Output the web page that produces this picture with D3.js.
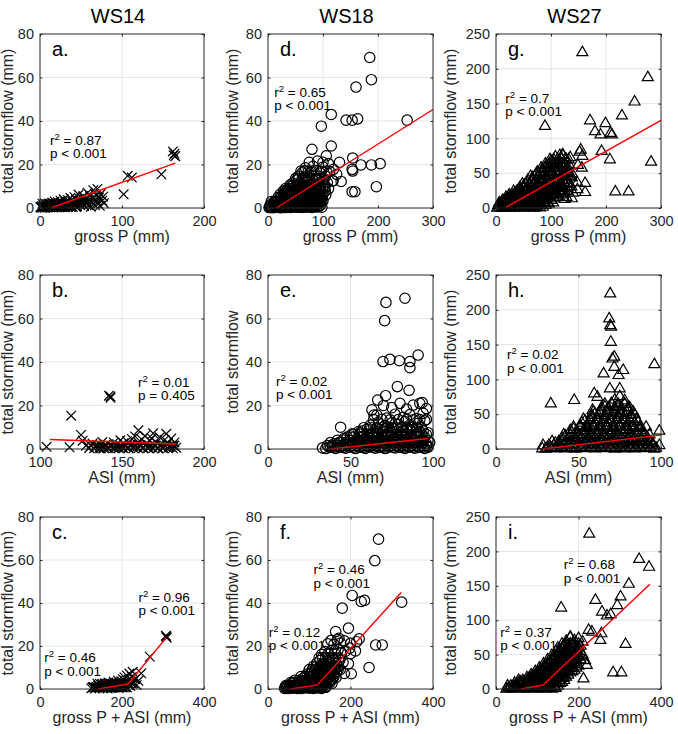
<!DOCTYPE html>
<html><head><meta charset="utf-8">
<script src="https://cdn.jsdelivr.net/npm/d3@7"></script>
<style>body{margin:0;background:#fff}svg{display:block;font-family:"Liberation Sans",Arial,Helvetica,sans-serif}</style>
</head><body><svg id="c" width="678" height="734"></svg>
<script>
// ---------- DATA ----------
const watersheds = ["WS14", "WS18", "WS27"];
const xTicksP = [0, 100, 200];
const xTicksP3 = [0, 100, 200, 300];
const xTicksASI14 = [100, 150, 200];
const xTicksASI = [0, 50, 100];
const xTicksSum = [0, 200, 400];
const yTicks80 = [0, 20, 40, 60, 80];
const yTicks250 = [0, 50, 100, 150, 200, 250];

// WS14 (x markers)
const ws14_grossP = [[1,0.2],[2,0.8],[3,0.1],[4,1.2],[5,0.4],[6,0.1],[7,1.6],[8,0.6],[9,0.2],[10,1.0],[11,2.0],[12,0.3],[13,1.4],[14,0.7],[15,2.4],[16,0.2],[17,1.1],[18,3.0],[19,0.5],[20,1.8],[21,0.9],[22,2.6],[23,0.3],[24,1.4],[25,3.4],[26,0.6],[27,2.0],[28,1.1],[29,4.0],[30,0.4],[31,2.8],[32,1.6],[33,0.8],[34,3.6],[35,2.2],[36,1.0],[37,4.6],[38,0.5],[39,3.0],[40,1.8],[41,2.4],[42,5.0],[43,1.2],[44,3.8],[45,0.7],[46,2.6],[47,6.2],[48,4.2],[49,1.5],[50,3.2],[52,2.0],[53,5.5],[54,0.9],[55,4.0],[57,2.8],[58,7.0],[59,1.4],[60,3.6],[61,5.4],[62,0.6],[64,2.5],[65,8.2],[66,4.6],[67,1.2],[68,6.0],[69,3.0],[70,8.8],[71,2.0],[72,4.8],[73,1.0],[74,6.4],[76,3.4],[77,5.2],[78,2.2],[102,6.3],[107,14.8],[112,14.0],[148,15.5],[162,26.0],[163,24.2],[164,25.0],[165,23.8]];
const ws14_grossP_core = [[0.5,0.5],[2.5,0.4],[4.5,0.6],[6.5,0.5],[8.5,0.4],[10.5,0.6],[12.5,0.5],[14.5,0.4],[16.5,0.6],[18.5,0.5],[20.5,0.4],[22.5,0.6],[24.5,0.5],[26.5,0.4],[28.5,0.6],[31,0.5],[34,0.4],[37,0.6],[40,0.5],[44,0.4],[3,2.0],[6,2.1],[9,1.9],[12,2.0],[15,2.1],[18,1.9],[21,2.0],[24,2.1],[27,1.9],[30,2.0],[33,2.1],[36,1.9],[40,2.0],[44,2.1],[48,1.9],[52,2.0],[56,2.1]];
const ws14_asi = [[104,1.0],[118,0.8],[119,15.3],[125,6.5],[126,3.8],[128,1.5],[130,0.5],[132,2.5],[134,0.8],[135,1.8],[137,0.3],[138,3.2],[139,1.0],[140,2.0],[141,0.6],[142,24.5],[143,23.5],[143,24.2],[144,1.5],[145,3.0],[146,0.4],[147,2.2],[148,1.0],[149,4.0],[150,0.7],[151,2.6],[152,1.4],[153,3.6],[154,0.5],[155,2.0],[156,4.6],[157,1.2],[158,5.8],[159,0.8],[160,8.6],[160,3.0],[161,1.8],[162,4.4],[163,0.6],[164,6.0],[165,2.4],[166,1.0],[167,3.8],[168,5.0],[169,7.2],[170,1.6],[171,3.0],[172,0.5],[173,5.4],[174,2.0],[175,1.0],[176,4.2],[177,7.0],[178,2.8],[179,0.8],[180,4.8],[181,1.6],[182,3.0],[183,0.6]];
const ws14_asi_core = [[131,1.5],[134,1.4],[137,1.6],[140,1.5],[143,1.4],[146,1.6],[149,1.5],[152,1.4],[155,1.6],[158,1.5],[161,1.4],[164,1.6],[167,1.5],[170,1.4],[173,1.6],[176,1.5],[179,1.4],[182,1.6],[133,0.3],[136,0.3],[139,0.3],[142,0.3],[145,0.3],[148,0.3],[151,0.3],[154,0.3],[157,0.3],[160,0.3],[163,0.3],[166,0.3],[169,0.3],[172,0.3],[175,0.3],[178,0.3],[181,0.3]];
const ws14_sum = [[125,0.3],[130,1.0],[134,0.2],[138,0.8],[142,1.6],[145,0.4],[148,0.9],[150,2.0],[153,0.3],[156,1.2],[158,2.6],[160,0.6],[163,1.5],[165,0.2],[167,3.0],[170,1.0],[172,2.2],[175,0.5],[177,1.6],[180,3.4],[182,0.8],[185,2.4],[187,1.2],[190,4.0],[192,0.5],[194,2.8],[196,1.6],[198,3.6],[200,0.8],[202,4.6],[204,2.0],[206,5.4],[208,1.0],[210,3.2],[212,6.2],[214,2.4],[216,4.4],[218,7.2],[220,1.4],[222,3.4],[224,5.6],[226,8.0],[228,2.6],[232,4.6],[236,1.8],[240,3.8],[247,7.3],[268,15.0],[307,24.8],[309,23.8],[308,24.4]];
const ws14_sum_core = [[128,0.8],[132,0.8],[136,0.8],[140,0.8],[144,0.8],[148,0.8],[152,0.8],[156,0.8],[160,0.8],[164,0.8],[168,0.8],[172,0.8],[176,0.8],[180,0.8],[184,0.8],[188,0.8],[192,0.8],[196,0.8],[200,0.8],[204,0.8],[208,0.8],[212,0.8],[140,2.5],[146,2.5],[152,2.5],[158,2.5],[164,2.5],[170,2.5],[176,2.5],[182,2.5],[188,2.5],[194,2.5],[200,2.5],[206,2.5],[212,2.5],[218,2.5],[224,2.5]];

// WS18 (circles)
const ws18_grossP = [[2,0.2],[5,0.6],[8,0.1],[11,0.9],[14,0.3],[17,1.2],[20,0.5],[23,0.1],[26,1.5],[29,0.7],[32,0.2],[35,1.8],[38,0.9],[41,0.3],[44,1.4],[47,0.6],[50,2.0],[54,0.4],[58,1.2],[62,0.3],[66,1.6],[70,0.5],[75,1.0],[80,0.3],[86,1.3],[92,0.6],[98,0.4],[10,2.5],[15,3.2],[20,2.2],[25,3.8],[30,2.6],[35,4.0],[40,2.8],[45,3.6],[50,2.4],[55,4.2],[60,3.0],[65,3.8],[70,2.6],[75,4.4],[80,3.2],[85,2.4],[90,3.6],[95,2.8],[100,3.4],[25,5.5],[30,6.8],[35,5.2],[40,7.0],[45,5.8],[50,6.6],[55,5.0],[60,7.2],[65,5.6],[70,6.4],[75,5.2],[80,7.0],[85,5.8],[90,6.6],[95,5.2],[105,6.0],[35,8.5],[42,9.8],[48,8.2],[55,10.0],[60,8.8],[66,9.6],[72,8.4],[78,10.2],[85,9.0],[92,8.6],[100,9.4],[110,8.8],[45,11.5],[52,12.8],[58,11.2],[64,13.0],[70,11.8],[76,12.6],[82,11.4],[90,13.2],[98,12.0],[108,11.6],[118,12.5],[55,14.5],[62,16.2],[70,14.8],[78,16.6],[85,15.0],[95,16.0],[105,14.6],[112,16.8],[125,15.5],[68,18.5],[75,21.0],[82,19.2],[90,21.6],[100,18.8],[110,20.4],[185,69.2],[188,59.0],[160,55.6],[115,43.0],[97,37.6],[142,40.4],[153,40.4],[163,41.0],[253,40.4],[80,27.0],[115,28.5],[106,24.0],[100,21.0],[154,23.0],[130,21.0],[169,19.8],[188,19.8],[204,20.4],[197,9.8],[153,7.5],[158,7.5],[133,12.2],[118,12.5],[153,17.8],[154,17.0],[119,17.8]];
const ws18_grossP_core = [[4,1.3],[9,1.4],[13,1.2],[18,1.3],[22,1.4],[27,1.2],[31,1.3],[36,1.4],[40,1.2],[45,1.3],[49,1.4],[53,1.2],[57,1.3],[61,1.4],[65,1.2],[69,1.3],[73,1.4],[78,1.2],[83,1.3],[89,1.4],[95,1.2],[18,4.8],[22,4.7],[28,4.9],[33,4.8],[38,4.7],[43,4.9],[48,4.8],[53,4.7],[58,4.9],[63,4.8],[68,4.7],[73,4.9],[78,4.8],[83,4.7],[88,4.9],[93,4.8],[98,4.7],[28,7.8],[33,7.9],[38,7.7],[44,7.8],[50,7.9],[57,7.7],[63,7.8],[69,7.9],[75,7.7],[82,7.8],[88,7.9],[96,7.7],[104,7.8],[40,10.5],[46,10.6],[51,10.4],[57,10.5],[63,10.6],[69,10.4],[75,10.5],[81,10.6],[88,10.4],[95,10.5],[103,10.6],[50,13.5],[56,13.6],[62,13.4],[68,13.5],[74,13.6],[80,13.4],[87,13.5],[94,13.6],[102,13.4],[60,17.0],[66,17.1],[73,16.9],[80,17.0],[88,17.1],[97,16.9],[106,17.0]];
const ws18_grossP_core2 = [[3,0.5],[7,0.5],[12,0.5],[16,0.5],[21,0.5],[25,0.5],[30,0.5],[34,0.5],[39,0.5],[43,0.5],[48,0.5],[52,0.5],[57,0.5],[61,0.5],[66,0.5],[71,0.5],[77,0.5],[83,0.5],[89,0.5],[6,3.0],[12,3.0],[17,3.0],[23,3.0],[28,3.0],[33,3.0],[38,3.0],[43,3.0],[48,3.0],[53,3.0],[58,3.0],[63,3.0],[68,3.0],[73,3.0],[78,3.0],[83,3.0],[88,3.0],[93,3.0],[98,3.0],[22,6.3],[28,6.3],[33,6.3],[38,6.3],[43,6.3],[48,6.3],[53,6.3],[58,6.3],[63,6.3],[68,6.3],[73,6.3],[78,6.3],[83,6.3],[88,6.3],[93,6.3],[100,6.3],[32,9.0],[38,9.0],[45,9.0],[51,9.0],[57,9.0],[63,9.0],[69,9.0],[75,9.0],[81,9.0],[88,9.0],[95,9.0],[103,9.0]];
const ws18_asi = [[33,0.5],[35,0.2],[38,0.9],[41,0.3],[44,1.0],[47,0.4],[50,1.2],[53,0.2],[56,0.8],[59,0.3],[62,1.1],[65,0.4],[68,0.9],[71,0.2],[74,1.2],[77,0.5],[80,0.8],[83,0.3],[86,1.0],[89,0.4],[92,0.9],[95,0.3],[97,1.1],[40,2.4],[44,3.0],[48,2.2],[52,3.2],[56,2.6],[60,3.4],[64,2.2],[68,3.0],[72,2.5],[76,3.3],[80,2.3],[84,3.1],[88,2.6],[92,3.4],[96,2.4],[44,10.0],[46,4.8],[50,6.0],[51,7.0],[54,4.6],[56,7.5],[58,5.8],[62,4.8],[66,6.0],[70,5.0],[74,5.8],[78,4.6],[82,6.2],[86,5.0],[90,5.8],[94,4.8],[97,7.5],[55,8.0],[60,9.2],[64,7.8],[68,8.8],[72,8.2],[76,9.4],[80,7.6],[84,8.6],[88,9.0],[92,8.0],[62,11.0],[67,12.4],[71,10.8],[75,12.0],[79,11.2],[83,12.6],[87,10.6],[91,11.8],[95,13.0],[66,15.6],[72,14.2],[77,16.0],[82,14.6],[86,15.8],[90,14.0],[94,16.4],[63,18.0],[70,20.0],[75,19.0],[80,21.0],[84,18.4],[88,20.2],[92,21.0],[96,18.6],[83,69.3],[71.5,67.4],[70.7,59.0],[69.7,40.2],[73.9,41.2],[79.6,40.6],[86,40.2],[86,37.4],[91,43.2],[78.4,28.7],[85.5,27.0],[71.3,24.5],[66.5,22.5],[93.5,21.3],[64.2,15.6]];
const ws18_asi_core = [[36,1.6],[39,1.7],[42,1.5],[45,1.6],[48,1.7],[51,1.5],[54,1.6],[57,1.7],[60,1.5],[63,1.6],[66,1.7],[69,1.5],[72,1.6],[75,1.7],[78,1.5],[81,1.6],[84,1.7],[87,1.5],[90,1.6],[93,1.7],[96,1.5],[42,4.0],[46,4.1],[50,3.9],[54,4.0],[58,4.1],[61,3.9],[64,4.0],[67,4.1],[70,3.9],[73,4.0],[76,4.1],[79,3.9],[82,4.0],[85,4.1],[88,3.9],[91,4.0],[94,4.1],[97,3.9],[52,6.8],[56,6.9],[60,6.7],[63,6.8],[66,6.9],[69,6.7],[72,6.8],[75,6.9],[78,6.7],[81,6.8],[84,6.9],[87,6.7],[90,6.8],[93,6.9],[96,6.7],[58,9.8],[62,9.9],[66,9.7],[69,9.8],[72,9.9],[75,9.7],[78,9.8],[81,9.9],[84,9.7],[87,9.8],[90,9.9],[93,9.7],[64,13.5],[69,13.6],[74,13.4],[79,13.5],[84,13.6],[88,13.4],[92,13.5],[96,13.6]];
const ws18_asi_core2 = [[37,0.8],[40,0.8],[43,0.8],[46,0.8],[49,0.8],[52,0.8],[55,0.8],[58,0.8],[61,0.8],[64,0.8],[67,0.8],[70,0.8],[73,0.8],[76,0.8],[79,0.8],[82,0.8],[85,0.8],[88,0.8],[91,0.8],[94,0.8],[97,0.8],[38,3.0],[43,3.0],[47,3.0],[51,3.0],[55,3.0],[59,3.0],[62,3.0],[66,3.0],[70,3.0],[74,3.0],[78,3.0],[82,3.0],[86,3.0],[90,3.0],[94,3.0],[98,3.0],[48,5.5],[52,5.5],[56,5.5],[60,5.5],[64,5.5],[67,5.5],[71,5.5],[75,5.5],[79,5.5],[83,5.5],[87,5.5],[91,5.5],[95,5.5],[57,8.3],[61,8.3],[65,8.3],[70,8.3],[74,8.3],[78,8.3],[82,8.3],[86,8.3],[90,8.3],[94,8.3]];
const ws18_sum = [[40,0.3],[45,0.8],[50,0.2],[55,1.0],[60,0.4],[65,1.2],[70,0.3],[75,0.9],[80,0.2],[85,1.1],[90,0.5],[95,1.3],[100,0.4],[105,0.9],[110,0.3],[115,1.2],[120,0.5],[125,1.0],[130,0.3],[140,0.8],[60,3.0],[70,2.4],[80,3.2],[90,2.6],[100,3.4],[108,2.2],[115,3.0],[122,2.5],[130,3.3],[138,2.4],[146,3.1],[155,2.6],[85,5.0],[95,4.4],[105,5.6],[112,4.6],[120,5.8],[127,4.8],[134,6.0],[141,5.0],[148,5.8],[156,4.6],[165,5.4],[105,8.0],[115,9.2],[122,7.6],[130,8.8],[137,7.8],[144,9.6],[151,8.2],[158,9.4],[166,8.0],[175,9.0],[185,7.2],[118,12.0],[126,13.2],[134,11.6],[142,13.0],[150,12.2],[158,13.6],[166,11.8],[174,13.4],[182,12.4],[195,11.8],[130,16.0],[138,17.4],[146,16.2],[154,18.0],[162,16.6],[170,18.2],[178,16.8],[188,17.6],[200,16.4],[145,21.0],[153,22.6],[160,20.8],[168,23.0],[176,21.4],[185,22.4],[200,21.2],[215,22.0],[268,69.7],[259,59.7],[204,43.5],[226,40.7],[234,41.2],[324,40.4],[180,37.6],[261,20.5],[277,20.5],[245,10.0],[195,28.3],[164,26.7],[172,23.6],[221,23.3],[202,7.1],[212,17.7],[198,19.0]];
const ws18_sum_core = [[43,1.6],[48,1.7],[53,1.5],[58,1.6],[63,1.7],[68,1.5],[73,1.6],[78,1.7],[83,1.5],[88,1.6],[93,1.7],[98,1.5],[103,1.6],[108,1.7],[113,1.5],[118,1.6],[123,1.7],[128,1.5],[135,1.6],[65,4.0],[75,4.1],[85,3.9],[92,4.0],[98,4.1],[104,3.9],[110,4.0],[117,4.1],[124,3.9],[132,4.0],[140,4.1],[150,3.9],[95,7.0],[102,7.1],[110,6.9],[117,7.0],[124,7.1],[131,6.9],[138,7.0],[145,7.1],[152,6.9],[160,7.0],[110,10.5],[118,10.6],[126,10.4],[133,10.5],[140,10.6],[147,10.4],[154,10.5],[162,10.6],[170,10.4],[124,14.5],[132,14.6],[140,14.4],[148,14.5],[156,14.6],[164,14.4],[172,14.5]];
const ws18_sum_core2 = [[42,0.8],[47,0.8],[52,0.8],[57,0.8],[62,0.8],[67,0.8],[72,0.8],[77,0.8],[82,0.8],[87,0.8],[92,0.8],[97,0.8],[102,0.8],[107,0.8],[112,0.8],[117,0.8],[122,0.8],[127,0.8],[133,0.8],[138,0.8],[55,3.0],[65,3.0],[72,3.0],[82,3.0],[88,3.0],[95,3.0],[102,3.0],[112,3.0],[119,3.0],[126,3.0],[134,3.0],[142,3.0],[150,3.0],[80,5.8],[90,5.8],[100,5.8],[108,5.8],[116,5.8],[123,5.8],[130,5.8],[137,5.8],[144,5.8],[152,5.8],[160,5.8],[100,9.0],[108,9.0],[116,9.0],[124,9.0],[131,9.0],[138,9.0],[146,9.0],[154,9.0],[162,9.0],[170,9.0]];

// WS27 (triangles)
const ws27_grossP = [[2,0.5],[6,2.0],[10,0.3],[14,2.5],[18,0.8],[22,3.0],[26,0.4],[30,2.2],[34,0.6],[38,3.0],[42,1.0],[46,2.6],[50,0.5],[55,2.8],[60,0.8],[65,2.2],[70,0.5],[75,2.6],[80,0.7],[85,1.8],[8,7.0],[14,9.0],[20,6.0],[26,10.0],[32,7.5],[38,9.5],[44,6.5],[50,10.0],[56,7.0],[62,9.0],[68,6.5],[74,10.0],[80,7.5],[88,9.0],[96,6.5],[104,8.0],[20,14.0],[27,17.0],[34,13.0],[41,16.5],[48,14.5],[55,17.5],[62,13.5],[69,16.0],[76,14.0],[83,17.0],[90,13.5],[98,16.5],[106,14.0],[115,16.0],[125,13.0],[35,22.0],[42,26.0],[49,21.0],[56,27.0],[63,23.0],[70,26.5],[77,21.5],[84,25.0],[91,22.5],[98,27.0],[106,22.0],[114,25.5],[122,21.0],[130,24.0],[140,22.0],[50,32.0],[57,37.0],[64,31.0],[71,38.0],[78,33.0],[85,37.5],[92,31.5],[99,36.0],[106,32.5],[113,38.0],[121,33.0],[129,36.5],[137,31.0],[66,44.0],[73,49.0],[80,43.0],[87,50.0],[94,45.0],[101,48.5],[108,43.5],[115,50.0],[122,45.0],[130,48.0],[138,44.0],[85,56.0],[92,62.0],[99,57.0],[106,63.0],[113,58.0],[120,62.5],[127,57.0],[134,61.0],[100,68.0],[108,74.0],[115,69.0],[122,76.0],[128,70.0],[135,73.0],[116,76],[152,81],[149,62],[162,36],[162,23],[128,16],[110,21],[138,50],[157,224],[276,188],[252,153],[229,133],[199,122],[171,126],[89,118],[180,110.5],[190,105.7],[208,108],[211,105.7],[192,82],[207,70],[282,66.7],[217,23.8],[241,23.8],[148,36.7],[148,27],[138,14],[154,84],[157,75],[156,58],[121,77],[103,67.6]];
const ws27_grossP_core = [[4,4.5],[8,4.4],[12,4.6],[16,4.5],[20,4.4],[24,4.6],[28,4.5],[32,4.4],[36,4.6],[40,4.5],[44,4.4],[48,4.6],[52,4.5],[57,4.4],[62,4.6],[67,4.5],[72,4.4],[77,4.6],[82,4.5],[90,4.4],[12,11.5],[17,11.4],[23,11.6],[29,11.5],[35,11.4],[41,11.6],[47,11.5],[53,11.4],[59,11.6],[65,11.5],[71,11.4],[77,11.6],[83,11.5],[92,11.4],[100,11.6],[24,19.5],[31,19.4],[38,19.6],[45,19.5],[52,19.4],[59,19.6],[66,19.5],[73,19.4],[80,19.6],[87,19.5],[94,19.4],[102,19.6],[110,19.5],[118,19.4],[43,29.5],[50,29.4],[57,29.6],[64,29.5],[71,29.4],[78,29.6],[85,29.5],[92,29.4],[99,29.6],[106,29.5],[114,29.4],[122,29.6],[130,29.5],[58,40.5],[65,40.4],[72,40.6],[79,40.5],[86,40.4],[93,40.6],[100,40.5],[107,40.4],[114,40.6],[121,40.5],[128,40.4],[75,52.0],[82,51.9],[89,52.1],[96,52.0],[103,51.9],[110,52.1],[117,52.0],[124,51.9],[132,52.1],[90,64.0],[97,63.9],[104,64.1],[111,64.0],[118,63.9],[125,64.1]];
const ws27_grossP_core2 = [[6,8],[11,8],[16,8],[21,8],[26,8],[31,8],[36,8],[41,8],[46,8],[51,8],[56,8],[61,8],[66,8],[71,8],[76,8],[81,8],[86,8],[94,8],[18,16],[24,16],[30,16],[36,16],[42,16],[48,16],[54,16],[60,16],[66,16],[72,16],[78,16],[84,16],[90,16],[97,16],[105,16],[112,16],[32,24.5],[38,24.5],[45,24.5],[52,24.5],[59,24.5],[66,24.5],[73,24.5],[80,24.5],[87,24.5],[94,24.5],[101,24.5],[109,24.5],[117,24.5],[125,24.5],[48,35],[54,35],[61,35],[68,35],[75,35],[82,35],[89,35],[96,35],[103,35],[110,35],[117,35],[125,35],[133,35],[63,46],[70,46],[77,46],[84,46],[91,46],[98,46],[105,46],[112,46],[119,46],[126,46],[134,46],[82,58],[89,58],[96,58],[103,58],[110,58],[117,58],[124,58],[131,58],[98,70],[105,70],[112,70],[119,70],[126,70],[132,70]];
const ws27_asi = [[28,1.0],[30,0.5],[33,2.5],[36,0.8],[39,3.0],[42,1.0],[45,2.8],[48,0.6],[51,3.2],[54,1.2],[57,2.6],[60,0.8],[63,3.0],[66,1.4],[69,2.4],[72,0.6],[75,3.2],[78,1.0],[81,2.6],[84,0.8],[87,3.0],[90,1.2],[93,2.4],[96,0.6],[99,5.7],[36,9.0],[40,12.0],[44,8.5],[48,13.0],[52,9.5],[56,12.5],[60,8.0],[64,13.5],[68,9.0],[72,12.0],[76,8.5],[80,13.0],[84,9.5],[88,12.0],[92,10.0],[95,8.0],[42,19.0],[46,24.0],[50,20.0],[54,25.0],[58,19.5],[62,24.0],[66,20.0],[70,25.0],[74,19.0],[78,24.5],[82,20.0],[86,24.0],[90,21.0],[47,29.0],[51,34.0],[55,30.0],[59,35.0],[63,29.5],[67,34.5],[71,30.0],[75,35.0],[79,29.0],[83,34.0],[87,30.0],[54,41.0],[58,46.0],[62,42.0],[66,47.0],[70,41.5],[74,46.0],[78,42.0],[82,45.0],[86,40.0],[60,51.0],[64,56.0],[68,52.0],[72,57.0],[76,51.5],[80,56.0],[84,50.0],[66,61.0],[70,66.0],[74,62.0],[78,65.0],[81,60.0],[72,71.0],[75,76.0],[78,70.0],[69.2,223.6],[68.6,187.7],[69.2,178],[69.8,175.8],[69.6,154],[71.7,132.7],[70.6,130],[71.7,118],[65.2,108.7],[74.3,106.3],[77.1,113.5],[96,122],[69,87],[75,87],[33.2,65.6],[47.4,70.4],[59.5,80],[61.5,75],[58.5,56],[99,26.3],[28.5,5.7]];
const ws27_asi_core = [[32,6.0],[35,5.9],[38,6.1],[41,6.0],[44,5.9],[47,6.1],[50,6.0],[53,5.9],[56,6.1],[59,6.0],[62,5.9],[65,6.1],[68,6.0],[71,5.9],[74,6.1],[77,6.0],[80,5.9],[83,6.1],[86,6.0],[89,5.9],[92,6.1],[95,6.0],[40,16.0],[44,15.9],[48,16.1],[52,16.0],[56,15.9],[60,16.1],[64,16.0],[68,15.9],[72,16.1],[76,16.0],[80,15.9],[84,16.1],[88,16.0],[92,15.9],[45,27.0],[49,26.9],[53,27.1],[57,27.0],[61,26.9],[65,27.1],[69,27.0],[73,26.9],[77,27.1],[81,27.0],[85,26.9],[89,27.1],[52,38.0],[56,37.9],[60,38.1],[64,38.0],[68,37.9],[72,38.1],[76,38.0],[80,37.9],[84,38.1],[58,49.0],[62,48.9],[66,49.1],[70,49.0],[74,48.9],[78,49.1],[82,49.0],[64,60.0],[68,59.9],[72,60.1],[76,60.0],[80,59.9]];
const ws27_asi_core2 = [[31,2],[34,2],[37,2],[40,2],[43,2],[46,2],[49,2],[52,2],[55,2],[58,2],[61,2],[64,2],[67,2],[70,2],[73,2],[76,2],[79,2],[82,2],[85,2],[88,2],[91,2],[94,2],[97,2],[34,11],[38,11],[42,11],[46,11],[50,11],[54,11],[58,11],[62,11],[66,11],[70,11],[74,11],[78,11],[82,11],[86,11],[90,11],[94,11],[41,21],[45,21],[49,21],[53,21],[57,21],[61,21],[65,21],[69,21],[73,21],[77,21],[81,21],[85,21],[89,21],[93,21],[47,32],[51,32],[55,32],[59,32],[63,32],[67,32],[71,32],[75,32],[79,32],[83,32],[87,32],[91,32],[53,43],[57,43],[61,43],[65,43],[69,43],[73,43],[77,43],[81,43],[85,43],[59,54],[63,54],[67,54],[71,54],[75,54],[79,54],[83,54],[66,65],[70,65],[74,65],[78,65]];
const ws27_sum = [[25,0.5],[32,2.0],[40,0.4],[48,2.4],[56,0.8],[64,2.8],[72,0.5],[80,2.2],[88,0.8],[96,2.6],[104,0.6],[112,2.4],[120,0.8],[128,2.8],[136,0.6],[145,2.0],[50,8.0],[60,11.0],[70,7.0],[80,10.5],[90,7.5],[100,11.5],[110,8.0],[120,11.0],[130,7.5],[140,10.0],[150,8.0],[160,10.5],[80,16.0],[90,19.0],[100,15.0],[110,19.5],[120,16.0],[130,18.5],[140,15.5],[150,19.0],[160,16.0],[170,18.0],[100,24.0],[110,28.0],[120,23.0],[130,29.0],[140,24.5],[150,28.5],[160,23.5],[170,27.5],[180,24.0],[190,28.0],[120,34.0],[130,40.0],[140,35.0],[150,41.0],[160,34.5],[170,40.0],[180,35.0],[190,39.0],[200,34.0],[140,46.0],[150,52.0],[160,47.0],[170,53.0],[180,46.5],[190,51.0],[200,47.0],[210,50.0],[155,58.0],[165,64.0],[175,59.0],[185,65.0],[195,58.0],[205,63.0],[170,70.0],[180,75.0],[190,71.0],[200,74.0],[210,69.0],[226,225.7],[347,189],[371,177.7],[322,153],[302,134.5],[241,129.6],[294,122],[158,118.4],[257,112.6],[269,106.8],[278,108.7],[224.5,86],[232.6,83.5],[255.5,81],[253,71.4],[314,65.5],[284,24.3],[304,24.3],[212,15.5],[220,35],[216,42],[180,76.2]];
const ws27_sum_core = [[28,5.0],[36,4.9],[44,5.1],[52,5.0],[60,4.9],[68,5.1],[76,5.0],[84,4.9],[92,5.1],[100,5.0],[108,4.9],[116,5.1],[124,5.0],[132,4.9],[140,5.1],[150,5.0],[55,13.0],[65,12.9],[75,13.1],[85,13.0],[95,12.9],[105,13.1],[115,13.0],[125,12.9],[135,13.1],[145,13.0],[155,12.9],[165,13.1],[85,21.0],[95,20.9],[105,21.1],[115,21.0],[125,20.9],[135,21.1],[145,21.0],[155,20.9],[165,21.1],[175,21.0],[105,31.0],[115,30.9],[125,31.1],[135,31.0],[145,30.9],[155,31.1],[165,31.0],[175,30.9],[185,31.1],[195,31.0],[125,43.0],[135,42.9],[145,43.1],[155,43.0],[165,42.9],[175,43.1],[185,43.0],[195,42.9],[205,43.1],[145,55.0],[155,54.9],[165,55.1],[175,55.0],[185,54.9],[195,55.1],[205,55.0],[160,66.0],[170,65.9],[180,66.1],[190,66.0],[200,65.9]];
const ws27_sum_core2 = [[30,2],[38,2],[46,2],[54,2],[62,2],[70,2],[78,2],[86,2],[94,2],[102,2],[110,2],[118,2],[126,2],[134,2],[142,2],[45,9],[55,9],[65,9],[75,9],[85,9],[95,9],[105,9],[115,9],[125,9],[135,9],[145,9],[155,9],[75,17],[85,17],[95,17],[105,17],[115,17],[125,17],[135,17],[145,17],[155,17],[165,17],[95,26],[105,26],[115,26],[125,26],[135,26],[145,26],[155,26],[165,26],[175,26],[185,26],[115,37],[125,37],[135,37],[145,37],[155,37],[165,37],[175,37],[185,37],[195,37],[135,49],[145,49],[155,49],[165,49],[175,49],[185,49],[195,49],[205,49],[150,60],[160,60],[170,60],[180,60],[190,60],[200,60]];

// regression fits (data units)
const fit_a = [[14,0.1],[165,20.6]];
const fit_b = [[106,4.4],[183,2.3]];
const fit_c = [[142,0],[215,2.3],[308,23.9]];
const fit_d = [[15,0],[300,45.3]];
const fit_e = [[38,0],[97,4.8]];
const fit_f = [[55,0],[120,1.9],[323,44.9]];
const fit_g = [[18,1],[300,126]];
const fit_h = [[28,0],[100,20]];
const fit_i = [[61,0],[114,5.8],[373,152.4]];

// statistics annotations (anchor in data units)
const notes_a = [{x:12.2, y:29, r2:"0.87", p:"p < 0.001"}];
const notes_b = [{x:159.8, y:28.5, r2:"0.01", p:"p = 0.405"}];
const notes_c = [{x:240, y:40.6, r2:"0.96", p:"p < 0.001"},{x:10.5, y:12.4, r2:"0.46", p:"p < 0.001"}];
const notes_d = [{x:11.5, y:51.2, r2:"0.65", p:"p < 0.001"}];
const notes_e = [{x:4.8, y:29, r2:"0.02", p:"p < 0.001"}];
const notes_f = [{x:110, y:53.3, r2:"0.46", p:"p < 0.001"},{x:1.7, y:24.3, r2:"0.12", p:"p < 0.001"}];
const notes_g = [{x:17, y:151.3, r2:"0.7", p:"p < 0.001"}];
const notes_h = [{x:6.7, y:128.9, r2:"0.02", p:"p < 0.001"}];
const notes_i = [{x:164, y:174, r2:"0.68", p:"p < 0.001"},{x:10.4, y:76, r2:"0.37", p:"p < 0.001"}];

// ---------- LAYOUT ----------
const colLeft = [40, 268, 496], colWidth = [164, 165, 165];
const rowTop = [34, 275, 517], rowHeight = [174, 174, 172];
const ylabOffset = [27, 30, 40];

const panels = [
 {letter:"a.", r:0, c:0, pts:ws14_grossP.concat(ws14_grossP_core), fit:fit_a, notes:notes_a, marker:"x", xDom:[0,200], xT:xTicksP, yDom:[0,80], yT:yTicks80, xLab:"gross P (mm)", yLab:"total stormflow (mm)"},
 {letter:"b.", r:1, c:0, pts:ws14_asi.concat(ws14_asi_core), fit:fit_b, notes:notes_b, marker:"x", xDom:[100,200], xT:xTicksASI14, yDom:[0,80], yT:yTicks80, xLab:"ASI (mm)", yLab:"total stormflow (mm)"},
 {letter:"c.", r:2, c:0, pts:ws14_sum.concat(ws14_sum_core), fit:fit_c, notes:notes_c, marker:"x", xDom:[0,400], xT:xTicksSum, yDom:[0,80], yT:yTicks80, xLab:"gross P + ASI (mm)", yLab:"total stormflow (mm)"},
 {letter:"d.", r:0, c:1, pts:ws18_grossP.concat(ws18_grossP_core, ws18_grossP_core2), fit:fit_d, notes:notes_d, marker:"o", xDom:[0,300], xT:xTicksP3, yDom:[0,80], yT:yTicks80, xLab:"gross P (mm)", yLab:"total stormflow (mm)"},
 {letter:"e.", r:1, c:1, pts:ws18_asi.concat(ws18_asi_core, ws18_asi_core2), fit:fit_e, notes:notes_e, marker:"o", xDom:[0,100], xT:xTicksASI, yDom:[0,80], yT:yTicks80, xLab:"ASI (mm)", yLab:"total stormflow"},
 {letter:"f.", r:2, c:1, pts:ws18_sum.concat(ws18_sum_core, ws18_sum_core2), fit:fit_f, notes:notes_f, marker:"o", xDom:[0,400], xT:xTicksSum, yDom:[0,80], yT:yTicks80, xLab:"gross P + ASI (mm)", yLab:"total stormflow (mm)"},
 {letter:"g.", r:0, c:2, pts:ws27_grossP.concat(ws27_grossP_core, ws27_grossP_core2), fit:fit_g, notes:notes_g, marker:"^", xDom:[0,300], xT:xTicksP3, yDom:[0,250], yT:yTicks250, xLab:"gross P (mm)", yLab:"total stormflow (mm)"},
 {letter:"h.", r:1, c:2, pts:ws27_asi.concat(ws27_asi_core, ws27_asi_core2), fit:fit_h, notes:notes_h, marker:"^", xDom:[0,100], xT:xTicksASI, yDom:[0,250], yT:yTicks250, xLab:"ASI (mm)", yLab:"total stormflow (mm)"},
 {letter:"i.", r:2, c:2, pts:ws27_sum.concat(ws27_sum_core, ws27_sum_core2), fit:fit_i, notes:notes_i, marker:"^", xDom:[0,400], xT:xTicksSum, yDom:[0,250], yT:yTicks250, xLab:"gross P + ASI (mm)", yLab:"total stormflow (mm)"}
];

const svg = d3.select("#c");
const axisCol = "#262626";

watersheds.forEach((w, c) => {
  svg.append("text").attr("x", colLeft[c] + colWidth[c] / 2 - 4).attr("y", 22.5)
    .attr("text-anchor", "middle").attr("font-size", 20).attr("fill", "#000").text(w);
});

const markerPath = {
  x: "M-4.8,-4.8L4.8,4.8M-4.8,4.8L4.8,-4.8",
  "^": "M0,-6L5.5,3.5L-5.5,3.5Z"
};

panels.forEach(p => {
  const L = colLeft[p.c], W = colWidth[p.c], T = rowTop[p.r], H = rowHeight[p.r];
  const x = d3.scaleLinear().domain(p.xDom).range([L, L + W]);
  const y = d3.scaleLinear().domain(p.yDom).range([T + H, T]);
  const g = svg.append("g");

  g.append("g").selectAll("line").data(p.xT.slice(1, -1)).join("line")
    .attr("x1", d => x(d)).attr("x2", d => x(d)).attr("y1", T).attr("y2", T + H)
    .attr("stroke", "#dedede").attr("stroke-width", 0.8);
  g.append("g").selectAll("line").data(p.yT.slice(1, -1)).join("line")
    .attr("y1", d => y(d)).attr("y2", d => y(d)).attr("x1", L).attr("x2", L + W)
    .attr("stroke", "#dedede").attr("stroke-width", 0.8);

  const mg = g.append("g").attr("fill", "none").attr("stroke", "#000").attr("stroke-width", 1.2);
  if (p.marker === "o") {
    mg.selectAll("circle").data(p.pts).join("circle")
      .attr("cx", d => x(d[0])).attr("cy", d => y(d[1])).attr("r", 5.2);
  } else {
    mg.selectAll("path").data(p.pts).join("path")
      .attr("transform", d => `translate(${x(d[0])},${y(d[1])})`)
      .attr("d", markerPath[p.marker]);
  }

  g.append("path").datum(p.fit)
    .attr("d", d3.line().x(d => x(d[0])).y(d => y(d[1])))
    .attr("fill", "none").attr("stroke", "#ff0000").attr("stroke-width", 1.4);

  const xa = d3.axisBottom(x).tickValues(p.xT).tickSize(-2.5).tickPadding(5).tickFormat(d3.format("d"));
  const ya = d3.axisLeft(y).tickValues(p.yT).tickSize(-2.5).tickPadding(6).tickFormat(d3.format("d"));
  const gx = g.append("g").attr("transform", `translate(0,${T + H})`).call(xa);
  const gy = g.append("g").attr("transform", `translate(${L},0)`).call(ya);
  [gx, gy].forEach(a => {
    a.select(".domain").remove();
    a.selectAll("line").attr("stroke", axisCol);
    a.selectAll("text").attr("font-size", 14.5).attr("fill", axisCol)
      .attr("font-family", '"Liberation Sans",Arial,sans-serif');
  });
  gx.selectAll("text").attr("dy", "0.9em");
  g.append("g").attr("transform", `translate(0,${T})`)
    .call(d3.axisTop(x).tickValues(p.xT).tickSize(-2.5).tickFormat(""))
    .call(a => { a.select(".domain").remove(); a.selectAll("line").attr("stroke", axisCol); });
  g.append("g").attr("transform", `translate(${L + W},0)`)
    .call(d3.axisRight(y).tickValues(p.yT).tickSize(-2.5).tickFormat(""))
    .call(a => { a.select(".domain").remove(); a.selectAll("line").attr("stroke", axisCol); });

  g.append("rect").attr("x", L).attr("y", T).attr("width", W).attr("height", H)
    .attr("fill", "none").attr("stroke", axisCol).attr("stroke-width", 1);

  g.append("text").attr("x", L + W / 2).attr("y", T + H + 34).attr("text-anchor", "middle")
    .attr("font-size", 16).attr("fill", axisCol).text(p.xLab);
  g.append("text").attr("transform", `translate(${L - ylabOffset[p.c]},${T + H / 2}) rotate(-90)`)
    .attr("text-anchor", "middle").attr("font-size", 16).attr("fill", axisCol).text(p.yLab);

  g.append("text").attr("x", L + 12).attr("y", T + 22).attr("font-size", 20).attr("fill", "#000").text(p.letter);

  p.notes.forEach(n => {
    const t = g.append("text").attr("x", x(n.x)).attr("y", y(n.y)).attr("font-size", 13.5).attr("fill", "#000");
    t.append("tspan").text("r");
    t.append("tspan").attr("font-size", 9.5).attr("dy", -5).text("2");
    t.append("tspan").attr("dy", 5).text(" = " + n.r2);
    g.append("text").attr("x", x(n.x)).attr("y", y(n.y) + 13.3).attr("font-size", 13.5).attr("fill", "#000").text(n.p);
  });
});
</script></body></html>
